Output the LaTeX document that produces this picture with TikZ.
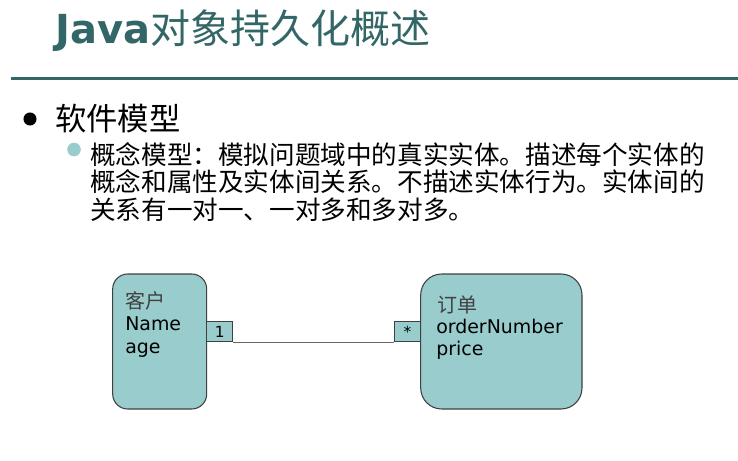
\documentclass[tikz,border=0pt]{standalone}
\usepackage{fontspec}
\setmainfont{DejaVu Sans}
\newfontfamily\cjk{Noto Sans CJK SC}
\newfontfamily\lat{DejaVu Sans}
\definecolor{teal1}{HTML}{99CCCC}
\definecolor{titlec}{HTML}{336666}
\definecolor{edgec}{HTML}{404040}
\tikzset{
  entity/.style={draw=edgec, fill=teal1, line width=0.8pt, inner sep=0pt},
  mult/.style={draw=edgec, fill=teal1, line width=0.6pt, inner sep=0pt, font=\lat\fontsize{11.5}{13}\selectfont},
  txt/.style={anchor=base west, inner sep=0pt},
  body/.style={txt, font=\cjk\fontsize{19.2}{22}\selectfont},
  boxtxt/.style={txt, font=\lat\fontsize{14.2}{17}\selectfont},
  boxcjk/.style={txt, font=\cjk\fontsize{15}{17}\selectfont, text=black!75},
}
\begin{document}
\begin{tikzpicture}[x=0.75pt,y=-0.75pt]
\useasboundingbox (0,0) rectangle (738,460);
% title
\node[txt, text=titlec] (title) at (55,44) {\fontsize{30}{34}\selectfont{\lat\bfseries Java}{\cjk 对象持久化概述}};
\draw[titlec, line width=2.4pt] (11,78.5) coordinate (ls) -- (738,78.5) coordinate (le);
% bullet 1
\fill[black] (30,119) circle[radius=4.9pt];
\node[txt, font=\cjk\fontsize{23.5}{26}\selectfont] (b1) at (55,130) {软件模型};
% sub bullet
\fill[teal1] (74,149.5) circle[radius=5.1pt];
\node[body] (l1) at (90,164) {概念模型：模拟问题域中的真实实体。描述每个实体的};
\node[body] (l2) at (90,191.5) {概念和属性及实体间关系。不描述实体行为。实体间的};
\node[body] (l3) at (90,219) {关系有一对一、一对多和多对多。};
% entities
\path[entity, rounded corners=15*0.75pt] (112.7,274) rectangle (206.7,409);
\node[inner sep=0pt, minimum width=94*0.75pt, minimum height=135*0.75pt] (cust) at (159.7,341.5) {};
\path[entity, rounded corners=21*0.75pt] (420.7,274) rectangle (582,409);
\node[inner sep=0pt, minimum width=161.3*0.75pt, minimum height=135*0.75pt] (ord) at (501.35,341.5) {};
\node[boxcjk] (c1) at (125.5,308) {客户};
\node[boxtxt] (c2) at (125,330) {Name};
\node[boxtxt] (c3) at (125,353) {age};
\node[boxcjk] (o1) at (437,312) {订单};
\node[boxtxt] (o2) at (436,333) {orderNumber};
\node[boxtxt] (o3) at (436,355) {price};
% multiplicities
\node[mult, minimum width=26*0.75pt, minimum height=20*0.75pt] (one) at (219.7,331.7) {1};
\node[mult, minimum width=26.7*0.75pt, minimum height=20*0.75pt] (many) at (407.35,331.7) {*};
\draw[edgec!80, line width=0.8pt] (one.south east) -- (many.south west);
\end{tikzpicture}
\end{document}
